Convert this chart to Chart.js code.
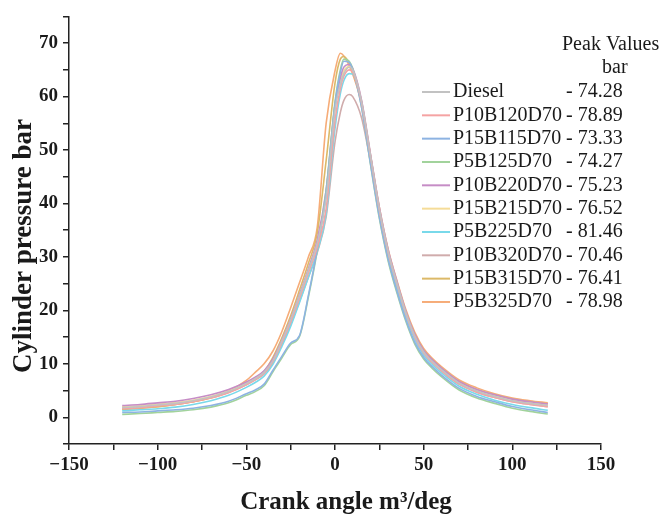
<!DOCTYPE html>
<html>
<head>
<meta charset="utf-8">
<script src="https://cdn.jsdelivr.net/npm/chart.js@4.4.1/dist/chart.umd.min.js"></script>
<style>
  html, body { margin: 0; padding: 0; background: #ffffff; }
  #wrap { position: relative; width: 662px; height: 516px; }
</style>
</head>
<body>
<div id="wrap"><canvas id="c" width="662" height="516"></canvas></div>
<script>
// Crank angle positions (deg)
const crankAngle = [-120,-110,-100,-90,-80,-70,-60,-50,-45,-40,-35,-30,-25,-20,-15,-10,-5,0,3,5,8,10,15,20,25,30,35,40,45,50,55,60,70,80,90,100,110,120];

// Series names and quoted peak values (legend)
const seriesNames = ['Diesel','P10B120D70','P15B115D70','P5B125D70','P10B220D70','P15B215D70','P5B225D70','P10B320D70','P15B315D70','P5B325D70'];
const peakValues = ['74.28','78.89','73.33','74.27','75.23','76.52','81.46','70.46','76.41','78.98'];
const seriesColors = ['#c2c2c2','#f5a3a3','#8db3e2','#a2d39c','#c68dc6','#f5dc98','#79d9ea','#d0acac','#dcb968','#f6ac78'];

// Cylinder pressure (bar)
const diesel     = [1.8,2.0,2.3,2.6,3.1,3.8,4.8,6.3, 7.2,8.4,10.6,14.2,18.2,22.8,27.5,32.6,41.0, 57.5,62.3,64.3,65.5, 65.0,59.0,49.0,39.0,31.0,25.0,19.5,15.2,12.2,10.4,8.9, 6.4,4.9,3.9,3.1,2.6,2.2];
const p10b120d70 = [1.6,1.8,2.1,2.4,2.9,3.6,4.6,6.1, 7.0,8.2,10.4,13.9,17.8,22.3,27.0,31.8,39.0, 55.5,61.5,63.8,65.0, 64.6,58.8,48.8,38.8,30.8,24.8,19.3,15.0,12.0,10.2,8.7, 6.2,4.7,3.7,2.9,2.4,2.0];
const p15b115d70 = [0.9,1.0,1.2,1.4,1.7,2.2,3.0,4.4, 5.1,6.2,8.8,11.4,13.9,15.3,22.8,31.5,42.0, 58.5,64.5,66.6,66.4, 65.0,58.0,47.5,37.5,29.5,23.5,18.2,14.0,11.2,9.4,7.9, 5.4,3.9,2.9,2.0,1.4,0.9];
const p5b125d70  = [0.55,0.7,0.9,1.1,1.4,1.9,2.7,4.1, 4.8,5.9,8.5,11.1,13.6,15.1,22.5,31.2,42.5, 59.0,65.0,67.0,66.6, 65.2,58.0,47.3,37.2,29.2,23.2,17.9,13.7,10.9,9.1,7.6, 5.1,3.6,2.6,1.7,1.1,0.6];
const p10b220d70 = [2.2,2.4,2.7,3.0,3.5,4.2,5.2,6.6, 7.5,8.7,10.9,14.4,18.4,23.0,27.8,33.2,42.5, 58.5,63.5,65.5,66.0, 65.3,59.3,49.3,39.3,31.3,25.3,19.8,15.5,12.5,10.7,9.2, 6.7,5.2,4.2,3.4,2.9,2.5];
const p15b215d70 = [1.9,2.1,2.4,2.7,3.2,3.9,4.9,6.4, 7.3,8.5,10.7,14.3,18.3,22.9,27.7,33.0,41.5, 57.8,62.8,64.8,65.6, 65.1,59.1,49.1,39.1,31.1,25.1,19.6,15.3,12.3,10.5,9.0, 6.5,5.0,4.0,3.2,2.7,2.3];
const p5b225d70  = [1.2,1.4,1.6,1.9,2.4,3.1,4.1,5.6, 6.5,7.7,9.9,13.2,17.0,21.5,26.2,31.0,38.0, 54.0,60.5,63.0,64.3, 64.2,58.6,48.6,38.4,30.3,24.2,18.8,14.6,11.6,9.8,8.3, 5.8,4.3,3.2,2.4,1.8,1.3];
const p10b320d70 = [1.9,2.1,2.4,2.7,3.1,3.8,4.7,6.1, 7.0,8.1,10.2,13.6,17.4,21.7,26.2,30.8,37.5, 51.5,57.0,59.3,60.4, 60.0,56.0,47.8,38.6,30.7,24.7,19.3,15.0,12.0,10.2,8.7, 6.2,4.7,3.7,2.9,2.4,2.0];
const p15b315d70 = [1.5,1.7,2.0,2.4,2.9,3.6,4.7,6.3, 7.3,8.6,11.2,14.8,19.0,23.8,28.8,34.5,48.0, 62.5,67.0,67.5,66.3, 64.8,58.8,48.8,38.9,31.0,25.1,19.7,15.5,12.5,10.7,9.2, 6.7,5.2,4.2,3.4,2.9,2.5];
const p5b325d70  = [1.5,1.7,2.0,2.4,2.9,3.7,4.9,6.9, 8.4,10.0,12.4,16.0,20.5,25.2,30.0,35.6,55.0, 64.8,68.1,67.6,65.8, 64.2,58.6,49.0,39.3,31.4,25.5,20.1,15.9,12.9,11.0,9.5, 7.0,5.5,4.4,3.6,3.1,2.7];

const seriesValues = [diesel,p10b120d70,p15b115d70,p5b125d70,p10b220d70,p15b215d70,p5b225d70,p10b320d70,p15b315d70,p5b325d70];

// Axis ticks and titles
const xTickValues = [-150,-100,-50,0,50,100,150];
const yTickValues = [0,10,20,30,40,50,60,70];
const xTitle = 'Crank angle m\u00B3/deg';
const yTitle = 'Cylinder pressure bar';
const legendTitle1 = 'Peak Values';
const legendTitle2 = 'bar';

const datasets = seriesNames.map((name, i) => ({
  label: name,
  data: crankAngle.map((x, j) => ({ x: x, y: seriesValues[i][j] })),
  borderColor: seriesColors[i],
  backgroundColor: seriesColors[i],
  borderWidth: 1.6,
  pointRadius: 0,
  fill: false,
  cubicInterpolationMode: 'monotone'
}));

const fmt = v => (v < 0 ? '\u2212' + Math.abs(v) : String(v));
const tickFont = { family: 'Liberation Serif', size: 19, weight: 'bold' };

const overlay = {
  id: 'overlay',
  afterDraw(chart) {
    const ctx = chart.ctx;
    ctx.save();
    ctx.fillStyle = '#1a1a1a';
    // axis titles
    ctx.textAlign = 'center';
    ctx.textBaseline = 'middle';
    ctx.font = 'bold 25px "Liberation Serif"';
    ctx.fillText(xTitle, 346, 503);
    ctx.save();
    ctx.font = 'bold 27px "Liberation Serif"';
    ctx.translate(24, 246);
    ctx.rotate(-Math.PI / 2);
    ctx.fillText(yTitle, 0, 0);
    ctx.restore();
    // legend
    ctx.font = '20px "Liberation Serif"';
    ctx.textAlign = 'left';
    ctx.fillText(legendTitle1, 562, 45);
    ctx.fillText(legendTitle2, 602, 68);
    seriesNames.forEach((name, i) => {
      const y = 92 + i * 23.33;
      ctx.strokeStyle = seriesColors[i];
      ctx.lineWidth = 2;
      ctx.beginPath();
      ctx.moveTo(422, y);
      ctx.lineTo(450, y);
      ctx.stroke();
      ctx.fillStyle = '#1a1a1a';
      ctx.fillText(name, 453, y);
      ctx.fillText('- ' + peakValues[i], 566, y);
    });
    ctx.restore();
  }
};

new Chart(document.getElementById('c'), {
  type: 'line',
  data: { datasets: datasets },
  options: {
    responsive: false,
    animation: false,
    layout: { padding: { top: 14, right: 61, left: 0, bottom: 0 } },
    plugins: { legend: { display: false }, tooltip: { enabled: false } },
    scales: {
      x: {
        type: 'linear', min: -150, max: 150,
        afterBuildTicks: s => { const t = []; for (let v = -150; v <= 150; v += 25) t.push({ value: v }); s.ticks = t; },
        ticks: { callback: v => (xTickValues.includes(v) ? fmt(v) : ''), font: tickFont, color: '#1a1a1a', maxRotation: 0, autoSkip: false, padding: 4 },
        grid: { drawOnChartArea: false, drawTicks: true, tickLength: 6, color: '#222', lineWidth: 1.5 },
        border: { display: true, color: '#222', width: 1.5 },
        afterFit: s => { s.height = 72; }
      },
      y: {
        type: 'linear', min: -5, max: 75,
        afterBuildTicks: s => { const t = []; for (let v = -5; v <= 75; v += 5) t.push({ value: v }); s.ticks = t; },
        ticks: { callback: v => (yTickValues.includes(v) ? fmt(v) : ''), font: tickFont, color: '#1a1a1a', autoSkip: false, padding: 5 },
        grid: { drawOnChartArea: false, drawTicks: true, tickLength: 6, color: '#222', lineWidth: 1.5 },
        border: { display: true, color: '#222', width: 1.5 },
        afterFit: s => { s.width = 69; }
      }
    }
  },
  plugins: [overlay]
});
</script>
</body>
</html>
